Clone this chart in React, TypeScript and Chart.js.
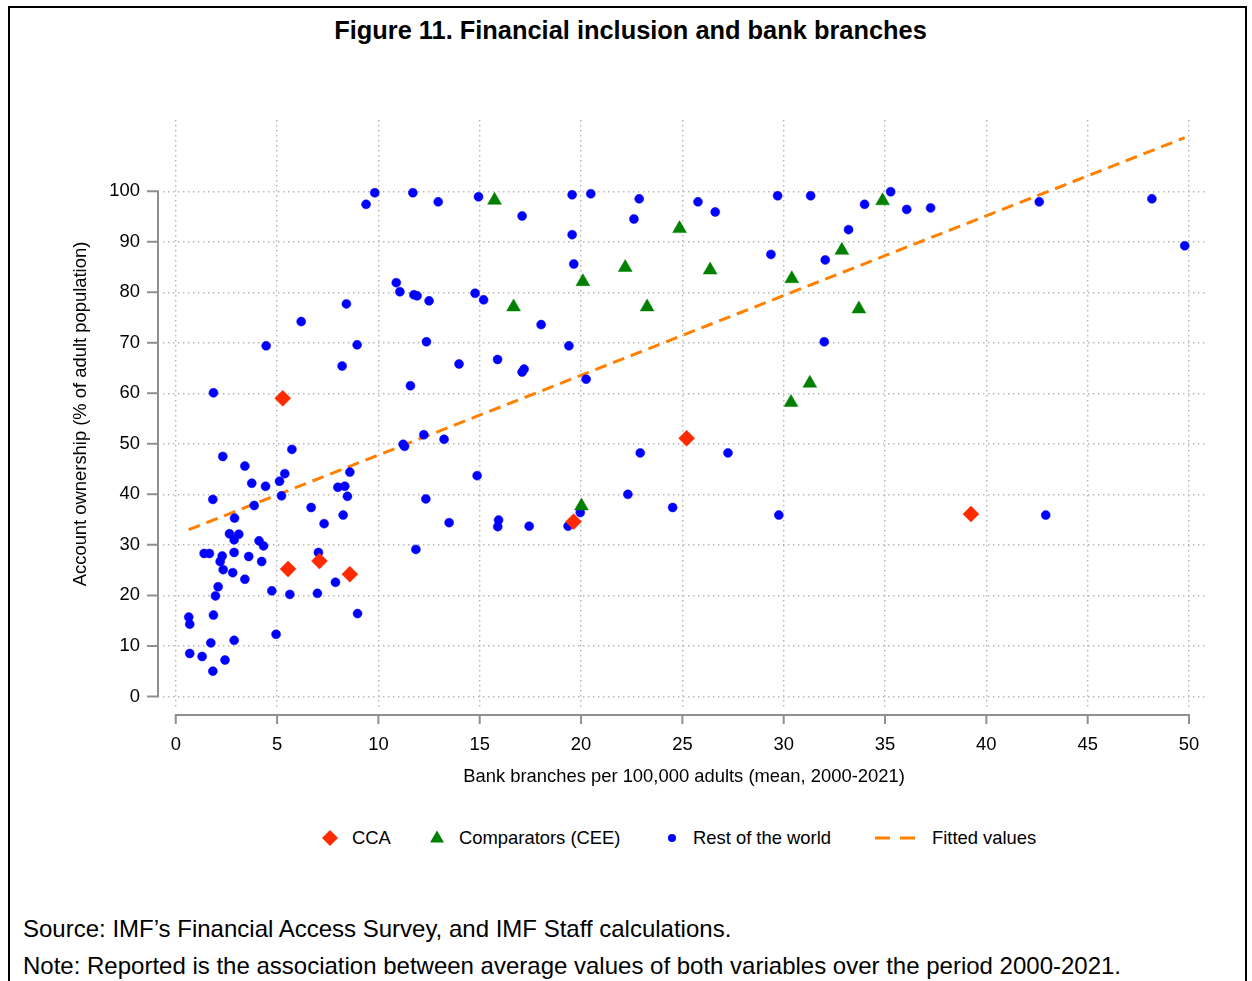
import React, { useEffect, useRef } from "react";
import { Chart, registerables } from "chart.js";

Chart.register(...registerables);

// ---------- data ----------
const ccaBranches = [5.28, 7.09, 5.54, 8.59, 19.63, 25.21, 39.24];
const ccaAccount = [59.0, 26.8, 25.2, 24.2, 34.6, 51.1, 36.1];

const ceeBranches = [15.73, 24.86, 22.18, 20.09, 16.67, 23.26, 20.02, 34.88, 32.87, 26.37, 30.4, 33.71, 31.29, 30.36];
const ceeAccount = [98.2, 92.6, 84.9, 82.1, 77.1, 77.1, 37.7, 98.1, 88.3, 84.4, 82.7, 76.7, 62.0, 58.2];

const rowBranches = [
  9.82, 11.7, 9.39, 10.88, 11.06, 11.75, 11.91, 12.5, 8.42, 6.19, 4.46, 8.95, 8.21, 12.37, 11.58, 1.86,
  12.24, 11.22, 11.29, 5.73, 2.32, 3.41, 8.59, 5.38, 5.12, 3.75, 4.43, 8.0, 8.34, 5.22, 8.47, 1.83,
  12.34, 3.87, 6.68, 2.9, 8.26, 7.32, 2.65, 3.11, 2.88, 4.11, 4.33, 11.85, 1.4, 1.66, 2.88, 7.04,
  2.29, 3.6, 2.19, 4.24, 2.34, 2.81, 3.41, 7.88, 2.09, 4.74, 1.96, 5.63, 6.99, 8.97, 1.86, 0.64,
  0.69, 4.95, 1.73, 2.88, 0.69, 1.3, 2.43, 1.83, 12.95, 14.94, 17.09, 19.56, 20.48, 22.87, 22.61, 19.56,
  25.77, 19.64, 14.77, 15.19, 18.03, 19.4, 13.98, 15.88, 17.09, 17.19, 20.25, 13.24, 14.87, 13.49, 15.93, 15.89,
  17.44, 19.36, 19.96, 22.31, 22.92, 24.52, 26.62, 29.7, 31.33, 35.28, 33.99, 36.07, 37.25, 33.2, 32.05, 29.37,
  32.0, 27.25, 29.76, 42.61, 48.17, 49.79, 42.93,
];
const rowAccount = [
  99.7, 99.7, 97.4, 81.9, 80.1, 79.5, 79.3, 78.3, 77.7, 74.2, 69.4, 69.6, 65.4, 70.2, 61.5, 60.1,
  51.8, 49.9, 49.5, 48.9, 47.5, 45.6, 44.4, 44.1, 42.6, 42.2, 41.6, 41.4, 41.6, 39.7, 39.6, 39.0,
  39.1, 37.8, 37.4, 35.3, 35.9, 34.2, 32.2, 32.1, 31.0, 30.8, 29.8, 29.1, 28.3, 28.3, 28.5, 28.5,
  27.8, 27.7, 26.7, 26.7, 25.1, 24.5, 23.2, 22.6, 21.7, 20.9, 19.9, 20.2, 20.4, 16.4, 16.1, 15.7,
  14.3, 12.3, 10.6, 11.1, 8.5, 7.9, 7.2, 5.0, 97.9, 98.9, 95.1, 99.3, 99.5, 98.5, 94.5, 91.4,
  97.9, 85.6, 79.8, 78.5, 73.6, 69.4, 65.8, 66.7, 64.2, 64.8, 62.8, 50.9, 43.7, 34.4, 34.9, 33.6,
  33.7, 33.7, 36.4, 40.0, 48.2, 37.4, 95.9, 99.1, 99.1, 99.9, 97.4, 96.4, 96.7, 92.4, 86.4, 87.5,
  70.2, 48.2, 35.9, 97.9, 98.5, 89.2, 35.9,
];

const fittedBranches = [0.64, 49.79];
const fittedAccount = [33.0, 110.6];

const xTicks = [0, 5, 10, 15, 20, 25, 30, 35, 40, 45, 50];
const yTicks = [0, 10, 20, 30, 40, 50, 60, 70, 80, 90, 100];

const X_MIN = -0.63;
const X_MAX = 50.79;
const Y_MIN = -2.29;
const Y_MAX = 114.1;

const FONT = '"Liberation Sans", Arial, Helvetica, sans-serif';
const AX_FONT = 18.4;
const BLUE = "#0000ff";
const RED = "#ff2a00";
const GREEN = "#008000";
const ORANGE = "#ff8000";
const AXIS_GRAY = "#8f8f8f";

const zip = (xs: number[], ys: number[]) => xs.map((x, i) => ({ x, y: ys[i] }));

const axisDecor = {
  id: "axisDecor",
  afterDraw(chart: any) {
    const { ctx, chartArea, scales } = chart;
    const xs = scales.x;
    const ys = scales.y;
    ctx.save();
    ctx.strokeStyle = AXIS_GRAY;
    ctx.lineWidth = 2;
    ctx.lineCap = "butt";
    const ax = chartArea.left - 5;
    const yTop = ys.getPixelForValue(yTicks[yTicks.length - 1]);
    const yBot = ys.getPixelForValue(yTicks[0]);
    ctx.beginPath();
    ctx.moveTo(ax, yBot + 1);
    ctx.lineTo(ax, yTop - 1);
    for (const t of yTicks) {
      const py = ys.getPixelForValue(t);
      ctx.moveTo(ax - 11, py);
      ctx.lineTo(ax + 1, py);
    }
    ctx.stroke();
    const ay = chartArea.bottom + 7;
    const xL = xs.getPixelForValue(xTicks[0]);
    const xR = xs.getPixelForValue(xTicks[xTicks.length - 1]);
    ctx.beginPath();
    ctx.moveTo(xL - 1, ay);
    ctx.lineTo(xR + 1, ay);
    for (const t of xTicks) {
      const px = xs.getPixelForValue(t);
      ctx.moveTo(px, ay - 1);
      ctx.lineTo(px, ay + 9);
    }
    ctx.stroke();
    ctx.restore();
  },
};

function ScatterChart() {
  const ref = useRef<HTMLCanvasElement | null>(null);
  useEffect(() => {
    if (!ref.current) return;
    const chart = new Chart(ref.current, {
      type: "scatter",
      data: {
        datasets: [
          {
            label: "Comparators (CEE)",
            data: zip(ceeBranches, ceeAccount),
            pointStyle: "triangle",
            pointRadius: 8,
            pointBackgroundColor: GREEN,
            pointBorderColor: GREEN,
            pointBorderWidth: 0.5,
          },
          {
            label: "CCA",
            data: zip(ccaBranches, ccaAccount),
            pointStyle: "rectRot",
            pointRadius: 8,
            pointBackgroundColor: RED,
            pointBorderColor: RED,
            pointBorderWidth: 0.5,
          },
          {
            label: "Rest of the world",
            data: zip(rowBranches, rowAccount),
            pointStyle: "circle",
            pointRadius: 4.5,
            pointBackgroundColor: BLUE,
            pointBorderColor: BLUE,
            pointBorderWidth: 0.5,
          },
          {
            type: "line",
            label: "Fitted values",
            data: zip(fittedBranches, fittedAccount),
            showLine: true,
            borderColor: ORANGE,
            borderWidth: 3,
            borderDash: [12, 7],
            pointRadius: 0,
            fill: false,
          } as any,
        ],
      },
      options: {
        responsive: false,
        animation: false,
        devicePixelRatio: 1,
        layout: { padding: { left: 0, right: 47, top: 30, bottom: 0 } },
        plugins: {
          legend: { display: false },
          tooltip: { enabled: false },
          title: { display: false },
        },
        scales: {
          x: {
            type: "linear",
            min: X_MIN,
            max: X_MAX,
            afterBuildTicks: (s: any) => {
              s.ticks = xTicks.map((v) => ({ value: v }));
            },
            afterFit: (s: any) => {
              s.height = 102;
            },
            grid: {
              color: "#b4b4b4",
              lineWidth: 1.4,
              drawTicks: true,
              tickLength: 26,
              tickColor: "rgba(0,0,0,0)",
            },
            border: { display: false, dash: [1.4, 3.6] },
            ticks: {
              padding: 0,
              color: "#000",
              font: { family: FONT, size: AX_FONT },
              autoSkip: false,
              maxRotation: 0,
              callback: (v: any) => String(v),
            },
            title: {
              display: true,
              text: "Bank branches per 100,000 adults (mean, 2000-2021)",
              color: "#000",
              font: { family: FONT, size: AX_FONT },
              padding: { top: 0, bottom: 22 },
            },
          },
          y: {
            type: "linear",
            min: Y_MIN,
            max: Y_MAX,
            afterBuildTicks: (s: any) => {
              s.ticks = yTicks.map((v) => ({ value: v }));
            },
            afterFit: (s: any) => {
              s.width = 163;
            },
            grid: {
              color: "#b4b4b4",
              lineWidth: 1.4,
              drawTicks: true,
              tickLength: 23,
              tickColor: "rgba(0,0,0,0)",
            },
            border: { display: false, dash: [1.4, 3.6] },
            ticks: {
              padding: 0,
              color: "#000",
              font: { family: FONT, size: AX_FONT },
              autoSkip: false,
              callback: (v: any) => String(v),
            },
            title: {
              display: true,
              text: "Account ownership (% of adult population)",
              color: "#000",
              font: { family: FONT, size: AX_FONT },
              padding: { top: 70, bottom: 0 },
            },
          },
        },
      },
      plugins: [axisDecor],
    } as any);
    return () => chart.destroy();
  }, []);
  return (
    <canvas
      ref={ref}
      width={1252}
      height={720}
      style={{ position: "absolute", left: 0, top: 90, width: 1252, height: 720 }}
    />
  );
}

const legendText: React.CSSProperties = {
  position: "absolute",
  top: 827,
  lineHeight: "22px",
  fontSize: AX_FONT,
  fontFamily: FONT,
  color: "#000",
  whiteSpace: "nowrap",
};

export default function App() {
  return (
    <div
      style={{
        position: "absolute",
        left: 0,
        top: 0,
        width: 1252,
        height: 981,
        overflow: "hidden",
        background: "#fff",
        fontFamily: FONT,
      }}
    >
      <div
        style={{
          position: "absolute",
          left: 8,
          top: 6,
          width: 1235,
          height: 1000,
          borderTop: "2px solid #000",
          borderLeft: "2px solid #000",
          borderRight: "2px solid #000",
        }}
      />
      <div
        style={{
          position: "absolute",
          left: 8,
          top: 15,
          width: 1245,
          textAlign: "center",
          fontWeight: "bold",
          fontSize: 25.4,
          lineHeight: "30px",
          color: "#000",
        }}
      >
        Figure 11. Financial inclusion and bank branches
      </div>
      <ScatterChart />
      <svg style={{ position: "absolute", left: 321, top: 829 }} width={18} height={18}>
        <polygon points="9,1 17,9 9,17 1,9" fill={RED} />
      </svg>
      <div style={{ ...legendText, left: 352 }}>CCA</div>
      <svg style={{ position: "absolute", left: 429, top: 830 }} width={16} height={14}>
        <polygon points="8,0.5 15,12.5 1,12.5" fill={GREEN} />
      </svg>
      <div style={{ ...legendText, left: 459 }}>Comparators (CEE)</div>
      <svg style={{ position: "absolute", left: 667, top: 833 }} width={10} height={10}>
        <circle cx={5} cy={5} r={4} fill={BLUE} />
      </svg>
      <div style={{ ...legendText, left: 693 }}>Rest of the world</div>
      <svg style={{ position: "absolute", left: 874, top: 834 }} width={42} height={8}>
        <line x1={1} y1={4} x2={41} y2={4} stroke={ORANGE} strokeWidth={3} strokeDasharray="15 10" />
      </svg>
      <div style={{ ...legendText, left: 932 }}>Fitted values</div>
      <div
        style={{
          position: "absolute",
          left: 23,
          top: 914,
          fontSize: 24,
          lineHeight: "30px",
          color: "#000",
          whiteSpace: "nowrap",
        }}
      >
        Source: IMF’s Financial Access Survey, and IMF Staff calculations.
      </div>
      <div
        style={{
          position: "absolute",
          left: 23,
          top: 951,
          fontSize: 24,
          lineHeight: "30px",
          color: "#000",
          whiteSpace: "nowrap",
        }}
      >
        Note: Reported is the association between average values of both variables over the period 2000-2021.
      </div>
    </div>
  );
}
